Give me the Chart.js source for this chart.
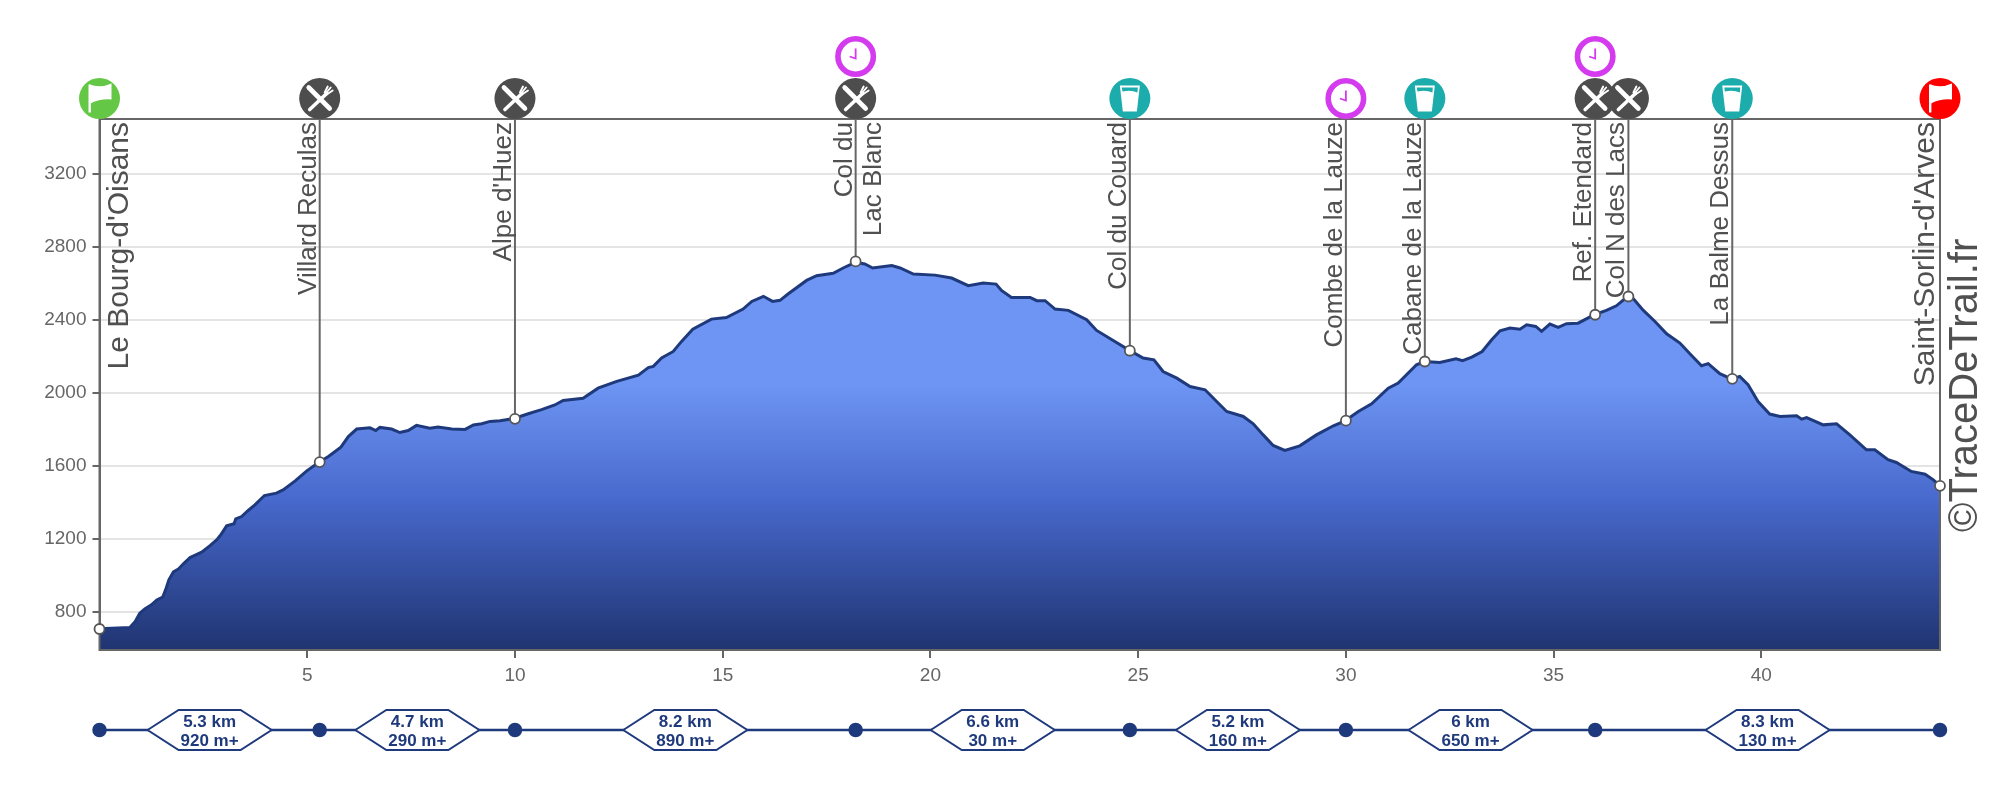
<!DOCTYPE html>
<html>
<head>
<meta charset="utf-8">
<title>Profil</title>
<script src="https://cdn.jsdelivr.net/npm/chart.js@4"></script>
<style>
    html, body { margin: 0; padding: 0; background: #fff; }
    canvas { position: absolute; left: 0; }
    #profileChart { top: 0; }
    #legsChart { top: 680px; }
</style>
</head>
<body>
<canvas id="profileChart" width="2000" height="800"></canvas>
<canvas id="legsChart" width="2000" height="100"></canvas>
<script>
// profil
const profileKm = [
    0, 0.73, 0.86, 0.97, 1.09, 1.25, 1.38, 1.52, 1.59, 1.67, 1.78, 1.90, 2.02, 2.18, 2.46, 2.66, 2.82, 2.92, 3.06, 3.24,
    3.28, 3.42, 3.58, 3.74, 3.97, 4.26, 4.42, 4.71, 4.99, 5.29, 5.51, 5.81, 5.99, 6.19, 6.51, 6.65, 6.75, 7.03, 7.23, 7.43,
    7.63, 7.95, 8.15, 8.48, 8.80, 9.0, 9.2, 9.4, 9.64, 9.98, 10.32, 10.64, 10.96, 11.16, 11.64, 12.0, 12.45, 12.97, 13.21, 13.33,
    13.53, 13.81, 14.01, 14.28, 14.73, 15.09, 15.49, 15.70, 15.98, 16.2, 16.38, 16.58, 17.02, 17.26, 17.66, 17.9, 18.19, 18.42, 18.61, 19.07,
    19.27, 19.59, 20.11, 20.51, 20.91, 21.27, 21.58, 21.71, 21.95, 22.4, 22.56, 22.76, 23.0, 23.32, 23.76, 24.0, 24.4, 24.79, 25.12, 25.38,
    25.6, 25.93, 26.25, 26.61, 26.89, 27.13, 27.53, 27.77, 28.01, 28.25, 28.53, 28.89, 29.29, 29.7, 29.98, 30.3, 30.62, 31.02, 31.26, 31.7,
    31.89, 32.26, 32.65, 32.81, 33.03, 33.28, 33.51, 33.71, 33.95, 34.19, 34.35, 34.57, 34.71, 34.91, 35.11, 35.31, 35.59, 35.98, 36.27, 36.51,
    36.78, 36.92, 37.16, 37.44, 37.72, 38.04, 38.28, 38.56, 38.72, 39.0, 39.28, 39.48, 39.68, 39.92, 40.2, 40.45, 40.85, 40.97, 41.09, 41.49,
    41.81, 42.13, 42.53, 42.73, 43.05, 43.25, 43.61, 43.94, 44.14, 44.3
];
const profileElev = [
    710, 716, 749, 794, 818, 840, 867, 882, 922, 977, 1021, 1037, 1065, 1099, 1129, 1165, 1196, 1224, 1273, 1284,
    1311, 1324, 1357, 1388, 1439, 1452, 1470, 1519, 1574, 1623, 1653, 1704, 1762, 1803, 1810, 1795, 1812, 1803, 1784, 1795,
    1823, 1808, 1814, 1803, 1801, 1825, 1832, 1845, 1848, 1861, 1887, 1909, 1935, 1960, 1972, 2027, 2064, 2098, 2140, 2146,
    2192, 2228, 2283, 2350, 2405, 2414, 2460, 2502, 2530, 2502, 2508, 2544, 2617, 2643, 2656, 2685, 2716, 2707, 2685, 2698,
    2685, 2652, 2646, 2630, 2588, 2603, 2597, 2562, 2524, 2524, 2506, 2506, 2460, 2453, 2402, 2343, 2288, 2234, 2192, 2182,
    2118, 2082, 2036, 2018, 1954, 1899, 1872, 1832, 1771, 1713, 1686, 1711, 1771, 1821, 1848, 1899, 1941, 2027, 2055, 2155,
    2173, 2168, 2188, 2177, 2197, 2228, 2292, 2341, 2356, 2350, 2374, 2365, 2338, 2378, 2360, 2380, 2383, 2429, 2453, 2478,
    2529, 2517, 2453, 2392, 2325, 2274, 2215, 2150, 2161, 2106, 2078, 2091, 2046, 1954, 1885, 1872, 1876, 1857, 1866, 1826,
    1832, 1771, 1689, 1689, 1635, 1620, 1571, 1556, 1525, 1492
];

// punkty na trasie
const wayNames = ["Le Bourg-d'Oisans", "Villard Reculas", "Alpe d'Huez", "Col du\nLac Blanc", "Col du Couard", "Combe de la Lauze",
    "Cabane de la Lauze", "Ref. Etendard", "Col N des Lacs", "La Balme Dessus", "Saint-Sorlin-d'Arves"];
const wayKm = [0, 5.3, 10, 18.2, 24.8, 30, 31.9, 36, 36.8, 39.3, 44.3];
const wayElev = [708, 1622, 1859, 2721, 2232, 1849, 2173, 2429, 2529, 2078, 1492];
const wayIcons = ["start", "food", "food", "food", "drink", "clock", "drink", "food", "food", "drink", "finish"];
const extraClockKm = [18.2, 36];

const xTicks = [5, 10, 15, 20, 25, 30, 35, 40];
const yTicks = [800, 1200, 1600, 2000, 2400, 2800, 3200];

// odcinki pod wykresem
const legStops = [0, 5.3, 10, 18.2, 24.8, 30, 36, 44.3];
const legDistance = ["5.3 km", "4.7 km", "8.2 km", "6.6 km", "5.2 km", "6 km", "8.3 km"];
const legGain = ["920 m+", "290 m+", "890 m+", "30 m+", "160 m+", "650 m+", "130 m+"];

const FONT = '"Liberation Sans", Arial, sans-serif';
const GRAY = "#666666";
const NAVY = "#1f3a7c";
const X_MAX = 44.3;
const Y_MIN = 593;
const Y_MAX = 3501;

function pointsOf(xs, ys) {
    return xs.map((x, i) => ({ x: x, y: ys[i] }));
}

// linie od punktu do gory wykresu
function guidePoints() {
    const out = [];
    wayKm.forEach((km, i) => {
        out.push({ x: km, y: wayElev[i] }, { x: km, y: Y_MAX }, { x: km, y: null });
    });
    return out;
}

function profileFill(context) {
    const area = context.chart.chartArea;
    if (!area) return "#6e95f3";
    const g = context.chart.ctx.createLinearGradient(0, area.top, 0, area.bottom);
    g.addColorStop(0, "#6e95f3");
    g.addColorStop(0.5, "#6e95f3");
    g.addColorStop(0.72, "#4768cc");
    g.addColorStop(1, "#1f3470");
    return g;
}

// ikony
function drawCutlery(c) {
    c.strokeStyle = "#fff";
    c.lineCap = "round";
    c.lineWidth = 3.6;
    c.beginPath(); c.moveTo(-10, 11); c.lineTo(7, -5); c.stroke();
    c.lineWidth = 1.9;
    c.beginPath(); c.moveTo(5, -6); c.lineTo(8, -12); c.stroke();
    c.beginPath(); c.moveTo(6, -5); c.lineTo(11, -11); c.stroke();
    c.beginPath(); c.moveTo(7, -4); c.lineTo(13, -8); c.stroke();
    c.lineWidth = 4.6;
    c.beginPath(); c.moveTo(-11, -11); c.lineTo(10, 10); c.stroke();
}

function drawFlag(c) {
    c.fillStyle = "#fff";
    c.fillRect(-11, -14, 2.4, 28);
    c.beginPath();
    c.moveTo(-10, -14);
    c.quadraticCurveTo(1, -10, 12, -15);
    c.lineTo(12, 1);
    c.quadraticCurveTo(1, 0, -9, 5);
    c.closePath();
    c.fill();
}

function drawGlass(c, color) {
    c.fillStyle = "#fff";
    c.beginPath();
    c.moveTo(-10, -13); c.lineTo(10, -13); c.lineTo(7, 13); c.lineTo(-7, 13);
    c.closePath();
    c.fill();
    c.fillStyle = color;
    c.beginPath();
    c.moveTo(-8, -11); c.lineTo(8, -11); c.lineTo(7.6, -6);
    c.quadraticCurveTo(1, -9, -7.4, -7);
    c.closePath();
    c.fill();
}

function drawClock(ctx, x, y) {
    const color = "#d53bee";
    ctx.save();
    ctx.translate(x, y);
    ctx.beginPath(); ctx.arc(0, 0, 17.7, 0, Math.PI * 2);
    ctx.fillStyle = "#fff"; ctx.fill();
    ctx.lineWidth = 5.6; ctx.strokeStyle = color; ctx.stroke();
    ctx.lineWidth = 1.8;
    ctx.beginPath(); ctx.moveTo(0, -8); ctx.lineTo(0, 2); ctx.lineTo(-6, 0); ctx.stroke();
    ctx.restore();
}

function drawIcon(ctx, type, x, y) {
    if (type === "clock") { drawClock(ctx, x, y); return; }
    const bg = { start: "#64c846", food: "#4d4d4d", drink: "#1cacac", finish: "#fe0000" }[type];
    ctx.save();
    ctx.translate(x, y);
    ctx.beginPath(); ctx.arc(0, 0, 20.5, 0, Math.PI * 2);
    ctx.fillStyle = bg; ctx.fill();
    if (type === "food") drawCutlery(ctx);
    else if (type === "drink") drawGlass(ctx, bg);
    else drawFlag(ctx);
    ctx.restore();
}

function drawWayLabel(ctx, name, i, x) {
    const ends = i === 0 || i === wayNames.length - 1;
    ctx.save();
    ctx.fillStyle = "#505050";
    ctx.font = (ends ? 30 : 26) + "px " + FONT;
    ctx.textAlign = "right";
    ctx.textBaseline = "alphabetic";
    let dx = i === 0 ? 28 : (ends ? -6 : -4);
    name.split("\n").forEach(line => {
        ctx.save();
        ctx.translate(x + dx, 122);
        ctx.rotate(-Math.PI / 2);
        ctx.fillText(line, 0, 0);
        ctx.restore();
        dx += 29;
    });
    ctx.restore();
}

const overlayPlugin = {
    id: "overlay",
    // ramka pod punktami, zeby kolka byly na wierzchu
    beforeDatasetDraw(chart, args) {
        if (args.index !== 2) return;
        const ctx = chart.ctx;
        const area = chart.chartArea;
        ctx.save();
        ctx.strokeStyle = GRAY;
        ctx.lineWidth = 2;
        ctx.strokeRect(area.left, area.top, area.right - area.left, area.bottom - area.top);
        ctx.restore();
    },
    afterDraw(chart) {
        const ctx = chart.ctx;
        const area = chart.chartArea;
        const xs = chart.scales.x;

        wayNames.forEach((name, i) => drawWayLabel(ctx, name, i, xs.getPixelForValue(wayKm[i])));
        wayIcons.forEach((type, i) => drawIcon(ctx, type, xs.getPixelForValue(wayKm[i]), area.top - 20.5));
        extraClockKm.forEach(km => drawClock(ctx, xs.getPixelForValue(km), area.top - 62.5));

        ctx.save();
        ctx.fillStyle = "#505050";
        ctx.font = "40px " + FONT;
        ctx.textAlign = "left";
        ctx.translate(1977, 532);
        ctx.rotate(-Math.PI / 2);
        ctx.fillText("©TraceDeTrail.fr", 0, 0);
        ctx.restore();
    }
};

new Chart(document.getElementById("profileChart").getContext("2d"), {
    type: "line",
    data: {
        datasets: [
            {
                label: "Profil",
                data: pointsOf(profileKm, profileElev),
                borderColor: NAVY,
                borderWidth: 3,
                backgroundColor: profileFill,
                fill: "start",
                pointRadius: 0,
                tension: 0,
                order: 3
            },
            {
                label: "Linie",
                data: guidePoints(),
                borderColor: GRAY,
                borderWidth: 2,
                pointRadius: 0,
                spanGaps: false,
                fill: false,
                order: 2
            },
            {
                label: "Punkty",
                data: pointsOf(wayKm, wayElev),
                showLine: false,
                pointRadius: 5,
                pointBackgroundColor: "#ffffff",
                pointBorderColor: "#555555",
                pointBorderWidth: 1.8,
                clip: false,
                order: 1
            }
        ]
    },
    options: {
        responsive: false,
        animation: false,
        devicePixelRatio: 1,
        layout: { padding: { top: 119, right: 60, left: 0, bottom: 0 } },
        plugins: { legend: { display: false }, tooltip: { enabled: false } },
        scales: {
            x: {
                type: "linear",
                min: 0,
                max: X_MAX,
                afterBuildTicks: scale => { scale.ticks = xTicks.map(v => ({ value: v })); },
                afterFit: scale => { scale.height = 150; },
                grid: { drawOnChartArea: false, tickColor: GRAY, tickLength: 8, lineWidth: 2 },
                border: { color: GRAY, width: 2 },
                ticks: { color: GRAY, maxRotation: 0, autoSkip: false, padding: 6, callback: v => String(v), font: { family: FONT, size: 19 } }
            },
            y: {
                min: Y_MIN,
                max: Y_MAX,
                afterBuildTicks: scale => { scale.ticks = yTicks.map(v => ({ value: v })); },
                afterFit: scale => { scale.width = 99.5; },
                grid: { color: "#e4e4e4", tickColor: GRAY, tickLength: 7, lineWidth: 2 },
                border: { color: GRAY, width: 2 },
                ticks: { color: GRAY, autoSkip: false, padding: 6, callback: v => String(v), font: { family: FONT, size: 19 } }
            }
        }
    },
    plugins: [overlayPlugin]
});

// szesciokaty z dystansem i przewyzszeniem
const legsPlugin = {
    id: "legs",
    afterDraw(chart) {
        const ctx = chart.ctx;
        const xs = chart.scales.x;
        const cy = chart.scales.y.getPixelForValue(0);
        legDistance.forEach((dist, i) => {
            const mid = (xs.getPixelForValue(legStops[i]) + xs.getPixelForValue(legStops[i + 1])) / 2;
            ctx.save();
            ctx.beginPath();
            ctx.moveTo(mid - 62, cy);
            ctx.lineTo(mid - 31, cy - 20);
            ctx.lineTo(mid + 31, cy - 20);
            ctx.lineTo(mid + 62, cy);
            ctx.lineTo(mid + 31, cy + 20);
            ctx.lineTo(mid - 31, cy + 20);
            ctx.closePath();
            ctx.fillStyle = "#fff";
            ctx.fill();
            ctx.strokeStyle = NAVY;
            ctx.lineWidth = 2;
            ctx.stroke();
            ctx.fillStyle = NAVY;
            ctx.font = "bold 17px " + FONT;
            ctx.textAlign = "center";
            ctx.textBaseline = "middle";
            ctx.fillText(dist, mid, cy - 8);
            ctx.fillText(legGain[i], mid, cy + 11);
            ctx.restore();
        });
    }
};

new Chart(document.getElementById("legsChart").getContext("2d"), {
    type: "line",
    data: {
        datasets: [{
            label: "Odcinki",
            data: legStops.map(km => ({ x: km, y: 0 })),
            borderColor: NAVY,
            borderWidth: 2.5,
            pointRadius: 6,
            pointBackgroundColor: NAVY,
            pointBorderColor: NAVY,
            clip: false,
            tension: 0
        }]
    },
    options: {
        responsive: false,
        animation: false,
        devicePixelRatio: 1,
        layout: { padding: { top: 1, right: 60, left: 99.5, bottom: 0 } },
        plugins: { legend: { display: false }, tooltip: { enabled: false } },
        scales: {
            x: { type: "linear", min: 0, max: X_MAX, display: false },
            y: { min: -1, max: 1, display: false }
        }
    },
    plugins: [legsPlugin]
});
</script>
</body>
</html>
